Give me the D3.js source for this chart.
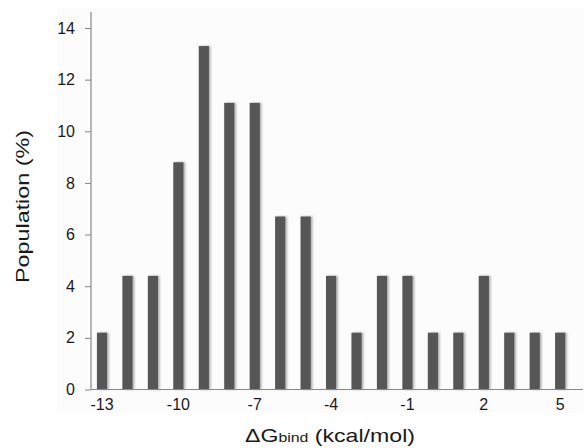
<!DOCTYPE html>
<html><head><meta charset="utf-8">
<script src="https://cdn.jsdelivr.net/npm/d3@7"></script>
<style>body{margin:0;background:#fff;}svg{display:block;font-family:Arial,"Liberation Sans",sans-serif;}</style>
</head><body>
<svg id="c" width="584" height="448"></svg>
<script>
const categories = [-13,-12,-11,-10,-9,-8,-7,-6,-5,-4,-3,-2,-1,0,1,2,3,4,5];
const population = [2.2,4.4,4.4,8.8,13.3,11.1,11.1,6.7,6.7,4.4,2.2,4.4,4.4,2.2,2.2,4.4,2.2,2.2,2.2];
const xTickLabels = [-13,-10,-7,-4,-1,2,5];
const yTickValues = [0,2,4,6,8,10,12,14];

const svg = d3.select("#c");
const x = d3.scaleBand().domain(categories).range([89.3, 572.9]).paddingInner(0.6).paddingOuter(0.3);
const y = d3.scaleLinear().domain([0,14]).range([389.5, 28]);

svg.append("rect").attr("x",57).attr("y",8).attr("width",527).attr("height",405).attr("fill","#fcfcfc");

const defs = svg.append("defs");
const f = defs.append("filter").attr("id","sh").attr("x","-50%").attr("y","-10%").attr("width","200%").attr("height","120%");
f.append("feDropShadow").attr("dx",1.5).attr("dy",0).attr("stdDeviation",1.2).attr("flood-color","#000").attr("flood-opacity",0.35);

svg.append("g").selectAll("rect").data(categories).join("rect")
  .attr("x", d=>x(d)).attr("width", x.bandwidth())
  .attr("y", (d,i)=>y(population[i])).attr("height",(d,i)=>y(0)-y(population[i]))
  .attr("fill","#565656").attr("filter","url(#sh)");

const ya = svg.append("g").attr("transform","translate(91,0)")
  .call(d3.axisLeft(y).tickValues(yTickValues).tickSize(6).tickPadding(10).tickFormat(d3.format("d")));
ya.attr("font-size",null).attr("font-family",null);
ya.select(".domain").remove();
ya.selectAll(".tick line").attr("stroke","#888");
ya.selectAll(".tick text").style("font-size","16px").attr("fill","#1a1a1a");
svg.append("line").attr("x1",91).attr("x2",91).attr("y1",12).attr("y2",389.5).attr("stroke","#888").attr("stroke-width",1.2);
svg.append("line").attr("x1",91).attr("x2",583).attr("y1",389.5).attr("y2",389.5).attr("stroke","#888").attr("stroke-width",1.2);
svg.append("g").selectAll("text").data(xTickLabels).join("text")
  .attr("x", d=>x(d)+x.bandwidth()/2).attr("y",410).attr("text-anchor","middle")
  .style("font-size","16px").attr("fill","#1a1a1a").text(d=>d);

const xl = svg.append("text").attr("x",245).attr("y",442).style("font-size","19px").attr("fill","#1a1a1a")
  .attr("textLength",170).attr("lengthAdjust","spacingAndGlyphs");
xl.append("tspan").text("ΔG");
xl.append("tspan").style("font-size","13px").text("bind");
xl.append("tspan").text(" (kcal/mol)");

svg.append("text").attr("transform","translate(29,206.5) rotate(-90)").attr("text-anchor","middle")
  .style("font-size","19px").attr("fill","#1a1a1a").attr("textLength",153).attr("lengthAdjust","spacingAndGlyphs")
  .text("Population (%)");
</script>
</body></html>
